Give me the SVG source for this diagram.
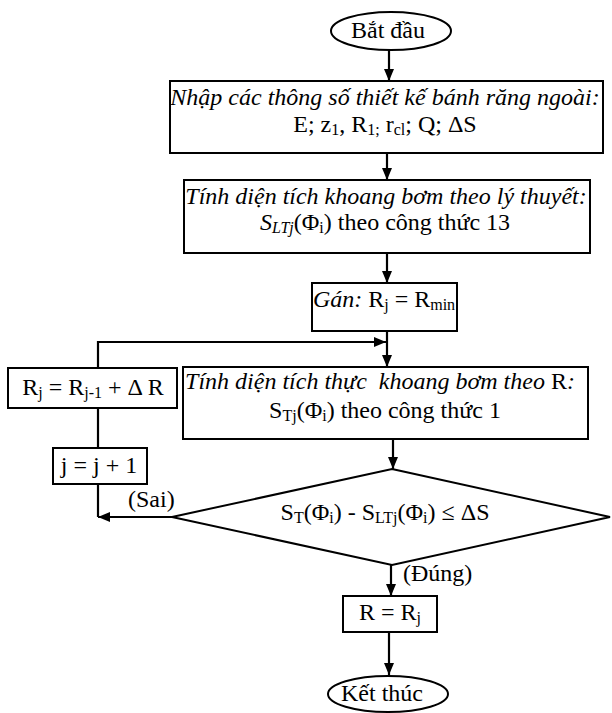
<svg xmlns="http://www.w3.org/2000/svg" width="612" height="713" viewBox="0 0 612 713">
<style>
.s{fill:#fff;stroke:#000;stroke-width:2}
.t{font-family:"Liberation Serif","Times New Roman",serif;font-size:24px;fill:#000}
.i{font-style:italic}
.m{text-anchor:middle}
.c{fill:none;stroke:#000;stroke-width:2.2}
.a{marker-end:url(#ah)}
.b{font-size:16px}
</style>
<defs>
<marker id="ah" markerUnits="userSpaceOnUse" markerWidth="12" markerHeight="10" refX="12" refY="5" orient="auto">
<path d="M0,0 L12,5 L0,10 z" fill="#000"/>
</marker>
</defs>
<rect width="612" height="713" fill="#fff"/>
<g id="connectors">
<path class="c a" d="M389,50 L389,81"/>
<path class="c a" d="M387,153 L387,180"/>
<path class="c a" d="M387,253 L387,283"/>
<path class="c a" d="M387,331 L387,367"/>
<path class="c a" d="M98,368 L98,342 L386,342"/>
<path class="c" d="M98,408 L98,448"/>
<path class="c" d="M98,484 L98,517"/>
<path class="c a" d="M172,517 L98,517"/>
<path class="c a" d="M393,439 L393,469"/>
<path class="c a" d="M391,565 L391,596"/>
<path class="c a" d="M389,632 L389,675"/>
</g>
<g id="start">
<ellipse class="s" cx="391" cy="31" rx="60" ry="19"/>
<text class="t m" x="388" y="38">Bắt đầu</text>
</g>
<g id="input">
<rect class="s" x="170" y="81" width="433" height="72"/>
<text class="t m i" x="385" y="105">Nhập các thông số thiết kế bánh răng ngoài:</text>
<text class="t m" x="385" y="132">E; z<tspan class="b" dy="3">1</tspan><tspan dy="-3">, R</tspan><tspan class="b" dy="3">1;</tspan><tspan dy="-3"> r</tspan><tspan class="b" dy="3">cl</tspan><tspan dy="-3">; Q; ΔS</tspan></text>
</g>
<g id="theory">
<rect class="s" x="184" y="180" width="406" height="73"/>
<text class="t m i" x="386" y="204">Tính diện tích khoang bơm theo lý thuyết:</text>
<text class="t m" x="385" y="230"><tspan class="i">S</tspan><tspan class="i b" dy="3">LTj</tspan><tspan dy="-3">(Φ</tspan><tspan class="b" dy="3">i</tspan><tspan dy="-3">) theo công thức 13</tspan></text>
</g>
<g id="assign">
<rect class="s" x="312" y="283" width="145" height="48"/>
<text class="t m" x="384" y="307" font-size="23"><tspan class="i">Gán:</tspan> R<tspan class="b" dy="3">j</tspan><tspan dy="-3"> = R</tspan><tspan class="b" dy="3">min</tspan></text>
</g>
<g id="increment-r">
<rect class="s" x="8" y="368" width="169" height="40"/>
<text class="t m" x="93" y="395" font-size="21">R<tspan class="b" dy="3" font-size="15">j</tspan><tspan dy="-3"> = R</tspan><tspan class="b" dy="3" font-size="15">j-1</tspan><tspan dy="-3"> + Δ R</tspan></text>
</g>
<g id="actual">
<rect class="s" x="183" y="367" width="405" height="72"/>
<text class="t m i" x="380" y="389" xml:space="preserve">Tính diện tích thực  khoang bơm theo <tspan font-style="normal">R</tspan>:</text>
<text class="t m" x="385" y="418">S<tspan class="b" dy="3">Tj</tspan><tspan dy="-3">(Φ</tspan><tspan class="b" dy="3">i</tspan><tspan dy="-3">) theo công thức 1</tspan></text>
</g>
<g id="increment-j">
<rect class="s" x="53" y="448" width="94" height="36"/>
<text class="t m" x="99" y="473">j = j + 1</text>
</g>
<g id="decision">
<polygon class="s" points="392,469 610,517 392,565 172,517"/>
<text class="t m" x="385" y="520">S<tspan class="b" dy="3">T</tspan><tspan dy="-3">(Φ</tspan><tspan class="b" dy="3">i</tspan><tspan dy="-3">) - S</tspan><tspan class="b" dy="3">LTj</tspan><tspan dy="-3">(Φ</tspan><tspan class="b" dy="3">i</tspan><tspan dy="-3">) ≤ ΔS</tspan></text>
</g>
<g id="labels">
<text class="t" x="128" y="507" font-size="21">(Sai)</text>
<text class="t" x="403" y="581" font-size="21">(Đúng)</text>
</g>
<g id="result">
<rect class="s" x="343" y="596" width="94" height="36"/>
<text class="t m" x="390" y="620">R = R<tspan class="b" dy="3">j</tspan></text>
</g>
<g id="end">
<ellipse class="s" cx="388" cy="694" rx="60" ry="18"/>
<text class="t m" x="382" y="701">Kết thúc</text>
</g>
</svg>
